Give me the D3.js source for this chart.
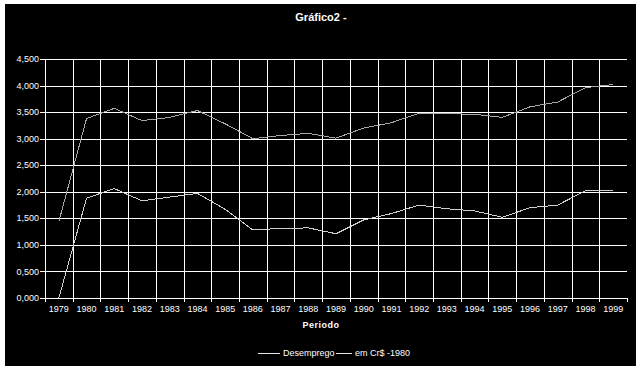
<!DOCTYPE html>
<html>
<head>
<meta charset="utf-8">
<script src="https://cdn.jsdelivr.net/npm/d3@7"></script>
<style>
  body { margin: 0; background: #fff; }
  text { font-family: "Liberation Sans", Arial, sans-serif; fill: #fff; }
</style>
</head>
<body>
<div id="chart"></div>
<script>
const anos = ['1979', '1980', '1981', '1982', '1983', '1984', '1985', '1986', '1987', '1988', '1989',
  '1990', '1991', '1992', '1993', '1994', '1995', '1996', '1997', '1998', '1999'];
const desemprego = [0.00, 1.88, 2.06, 1.83, 1.90, 1.97, 1.67, 1.28, 1.31, 1.32, 1.21,
  1.47, 1.59, 1.75, 1.68, 1.64, 1.52, 1.70, 1.75, 2.02, 2.02];
const emCr1980 = [1.44, 3.38, 3.57, 3.34, 3.40, 3.53, 3.28, 3.00, 3.06, 3.10, 3.01,
  3.20, 3.30, 3.48, 3.47, 3.46, 3.40, 3.60, 3.69, 3.96, 4.02];
const yTicks = [0, 0.5, 1, 1.5, 2, 2.5, 3, 3.5, 4, 4.5];
const legendas = ['Desemprego', 'em Cr$ -1980'];

const W = 642, H = 370;
const plot = { left: 45, right: 627, top: 59, bottom: 298 };
const br = d3.formatLocale({ decimal: ',', thousands: '.', grouping: [3], currency: ['R$', ''] });
const fmt = br.format('.3f');

const svg = d3.select('#chart').append('svg')
  .attr('width', W)
  .attr('height', H);

// fundo preto com a borda branca da planilha
svg.append('rect')
  .attr('x', 5).attr('y', 4)
  .attr('width', 631).attr('height', 362)
  .attr('fill', '#000');

const x = d3.scaleBand().domain(anos).range([plot.left, plot.right]).padding(0);
const y = d3.scaleLinear().domain([0, 4.5]).range([plot.bottom, plot.top]);

const grid = svg.append('g').attr('shape-rendering', 'crispEdges').attr('stroke', '#fff');

// linhas de grade horizontais
grid.selectAll('.hgrid')
  .data(yTicks)
  .enter().append('line')
    .attr('x1', plot.left - 5).attr('x2', plot.right)
    .attr('y1', d => Math.round(y(d)) + 0.5).attr('y2', d => Math.round(y(d)) + 0.5);

// linhas verticais nas divisas das categorias
const divisas = anos.map(a => x(a)).concat([plot.right]);
grid.selectAll('.vgrid')
  .data(divisas)
  .enter().append('line')
    .attr('x1', d => Math.round(d) + 0.5).attr('x2', d => Math.round(d) + 0.5)
    .attr('y1', (d, i) => (i === 0 || i === divisas.length - 1) ? plot.bottom : plot.top)
    .attr('y2', plot.bottom + 4);
grid.append('line')
  .attr('x1', plot.left + 0.5).attr('x2', plot.left + 0.5)
  .attr('y1', plot.top).attr('y2', plot.bottom);

// rótulos do eixo y
svg.append('g').selectAll('text')
  .data(yTicks)
  .enter().append('text')
    .attr('x', 39)
    .attr('y', d => y(d))
    .attr('dy', '0.35em')
    .attr('text-anchor', 'end')
    .attr('font-size', 9)
    .text(d => fmt(d));

// rótulos do eixo x
svg.append('g').selectAll('text')
  .data(anos)
  .enter().append('text')
    .attr('x', d => x(d) + x.bandwidth() / 2)
    .attr('y', 312)
    .attr('text-anchor', 'middle')
    .attr('font-size', 9)
    .text(d => d);

const line = d3.line()
  .x((d, i) => x(anos[i]) + x.bandwidth() / 2)
  .y(d => y(d));

const series = [
  { nome: legendas[0], valores: desemprego, cor: '#d0d0d0' },
  { nome: legendas[1], valores: emCr1980, cor: '#a8a8a8' }
];

svg.append('g').selectAll('path')
  .data(series)
  .enter().append('path')
    .attr('d', d => line(d.valores))
    .attr('fill', 'none')
    .attr('stroke', d => d.cor)
    .attr('stroke-width', 1)
    .attr('shape-rendering', 'crispEdges');

// títulos
svg.append('text')
  .attr('x', 321).attr('y', 21)
  .attr('text-anchor', 'middle')
  .attr('font-size', 11).attr('font-weight', 'bold')
  .text('Gráfico2 -');

svg.append('text')
  .attr('x', 321).attr('y', 328)
  .attr('text-anchor', 'middle')
  .attr('font-size', 9).attr('font-weight', 'bold')
  .attr('letter-spacing', 0.5)
  .text('Periodo');

// legenda
const legX = [258, 336];
const leg = svg.append('g').selectAll('g')
  .data(series)
  .enter().append('g')
    .attr('transform', (d, i) => `translate(${legX[i]}, 353)`);
leg.append('line')
  .attr('x1', 0).attr('x2', (d, i) => i === 0 ? 22 : 16)
  .attr('y1', 0.5).attr('y2', 0.5)
  .attr('stroke', '#e8e8e8')
  .attr('shape-rendering', 'crispEdges');
leg.append('text')
  .attr('x', (d, i) => i === 0 ? 25 : 19)
  .attr('y', 0).attr('dy', '0.35em')
  .attr('font-size', 9)
  .text(d => d.nome);
</script>
</body>
</html>
